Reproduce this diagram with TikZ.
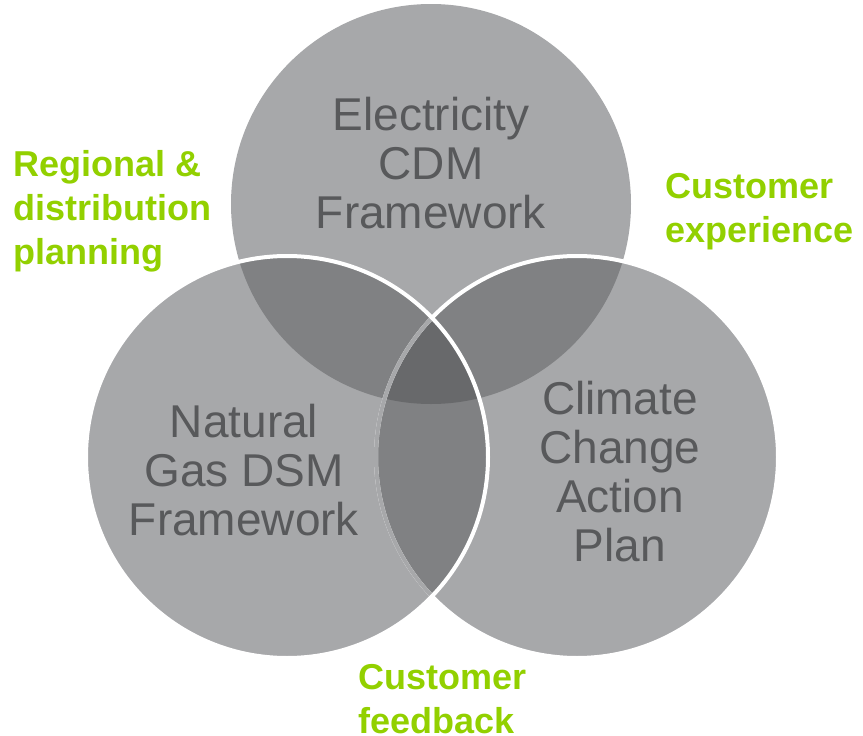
\documentclass[tikz,border=0pt]{standalone}
\usepackage{fontspec}
\setmainfont{Liberation Sans}
\usepackage{tikz}
\definecolor{one}{HTML}{A7A8AA}
\definecolor{two}{HTML}{808183}
\definecolor{three}{HTML}{68696B}
\definecolor{ink}{HTML}{58595B}
\definecolor{leaf}{HTML}{92D000}

\begin{document}
\begin{tikzpicture}[x=1pt,y=-1pt,
  setname/.style={font=\fontsize{46}{49}\selectfont, text=ink, align=center, anchor=base, inner sep=0pt},
  linkname/.style={font=\fontsize{36}{44}\selectfont\bfseries, text=leaf, align=left, anchor=base west, inner sep=0pt},
  rim/.style={line width=4pt}]
\useasboundingbox (0,0) rectangle (863,736);
\coordinate (top) at (431,204);
\coordinate (left) at (287,457);
\coordinate (right) at (577,457);

% circles
\fill[one] (top) circle[radius=200pt];
\fill[one] (right) circle[radius=201pt];
\fill[one] (left) circle[radius=201pt];

% overlaps
\begin{scope}
\clip (left) circle[radius=201pt];
\fill[two] (right) circle[radius=201pt];
\end{scope}
\begin{scope}
\clip (top) circle[radius=200pt];
\fill[two] (left) circle[radius=201pt];
\fill[two] (right) circle[radius=201pt];
\clip (left) circle[radius=201pt];
\fill[three] (right) circle[radius=201pt];
\end{scope}

% rims
\draw[rim, white] (right) circle[radius=201pt];
\begin{scope}
\clip (left) circle[radius=201pt];
\draw[rim, one] (right) circle[radius=201pt];
\end{scope}
\draw[rim, white] (left) circle[radius=201pt];

\node[setname] (elec) at (431,228) {Electricity\\CDM\\Framework};
\node[setname] (gas) at (244,535) {Natural\\Gas DSM\\Framework};
\node[setname] (climate) at (620,561) {Climate\\Change\\Action\\Plan};

\node[linkname] (regional) at (13,264) {Regional \&\\distribution\\planning};
\node[linkname] (experience) at (665,242) {Customer\\experience};
\node[linkname] (feedback) at (358,733) {Customer\\feedback};
\end{tikzpicture}
\end{document}
